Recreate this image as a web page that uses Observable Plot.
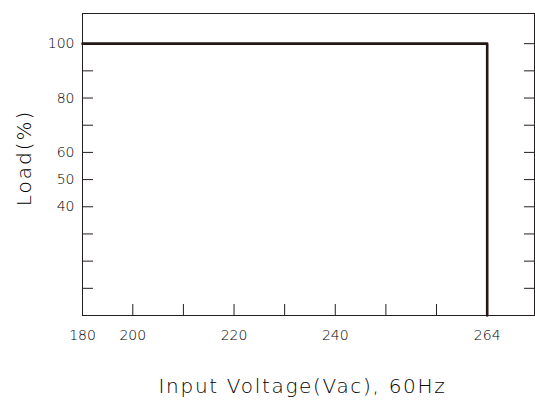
<!DOCTYPE html>
<html>
<head>
<meta charset="utf-8">
<script src="https://cdn.jsdelivr.net/npm/d3@7"></script>
<script src="https://cdn.jsdelivr.net/npm/@observablehq/plot@0.6"></script>
<style>
  html, body { margin: 0; padding: 0; background: #fff; }
</style>
</head>
<body>
<div id="chart"></div>
<script>
// Derating curve: load vs input voltage
const voltage = [180, 264, 264];
const load = [100, 100, 0];

// Axis ticks
const xTickLabels = [180, 200, 220, 240, 264];
const xTickMarks = [200, 210, 220, 230, 240, 250, 260];
const yTickLabels = [100, 80, 60, 50, 40];
const yTickMarks = [10, 20, 30, 40, 50, 60, 70, 80, 90, 100];

const xTitle = "Input Voltage(Vac), 60Hz";
const yTitle = "Load(%)";

const W = 535, H = 400;
const mL = 82, mR = 1, mT = 13, mB = 85;
const innerW = W - mL - mR, innerH = H - mT - mB;
const ink = "#231f20";
const textInk = "#000";
const font = "DejaVu Sans";

const data = voltage.map((v, i) => ({v, l: load[i]}));

const chart = Plot.plot({
  width: W,
  height: H,
  marginLeft: mL,
  marginRight: mR,
  marginTop: mT,
  marginBottom: mB,
  style: {fontFamily: font, color: "#333", background: "#fff"},
  x: {type: "linear", domain: [180, 200, 260, 264], range: [mL, mL + 50.3, mL + 354, mL + 404.7], axis: null},
  y: {domain: [0, 111.1], axis: null},
  marks: [
    // bottom inward ticks
    Plot.ruleX(xTickMarks, {stroke: ink, strokeWidth: 1, insetTop: innerH - 11}),
    // left inward ticks
    Plot.ruleY(yTickMarks, {stroke: ink, strokeWidth: 1, insetRight: innerW - 11}),
    // right inward ticks
    Plot.ruleY(yTickMarks, {stroke: ink, strokeWidth: 1, insetLeft: innerW - 10}),
    Plot.frame({stroke: ink, strokeWidth: 1}),
    Plot.line(data, {x: "v", y: "l", stroke: "#231815", strokeWidth: 2.6, curve: "linear"}),
    Plot.axisX(xTickLabels, {tickSize: 0, tickPadding: 15, fontSize: 14, fontWeight: 200, fill: textInk, tickFormat: d => String(d), label: null}),
    Plot.axisY(yTickLabels, {tickSize: 0, tickPadding: 8, fontSize: 14, fontWeight: 200, fill: textInk, tickFormat: d => String(d), label: null}),
    Plot.text([xTitle], {frameAnchor: "bottom", dx: -6, dy: 71, fontSize: 20, fontWeight: 200, fill: textInk, lineAnchor: "middle"}),
    Plot.text([yTitle], {frameAnchor: "left", rotate: -90, dx: -58, dy: -6.5, fontSize: 20, fontWeight: 200, fill: textInk, lineAnchor: "middle", textAnchor: "middle"})
  ]
});

document.getElementById("chart").appendChild(chart);
const sel = d3.select(chart).selectAll("text");
sel.filter(function() { return this.textContent === xTitle; }).style("letter-spacing", "1.7px");
sel.filter(function() { return this.textContent === yTitle; }).style("letter-spacing", "2px");
</script>
</body>
</html>
